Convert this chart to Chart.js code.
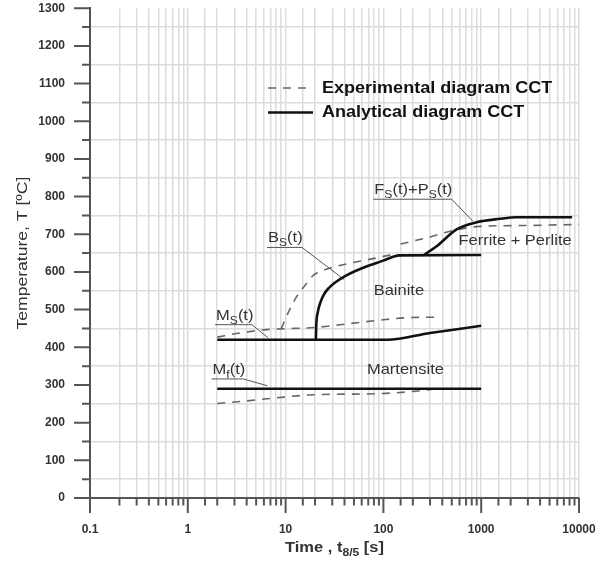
<!DOCTYPE html>
<html>
<head>
<meta charset="utf-8">
<style>
  html, body { margin: 0; padding: 0; background: #fff; }
  #wrap { width: 612px; height: 563px; }
</style>
</head>
<body>
<div id="wrap"><canvas id="cct" width="612" height="563"></canvas></div>
<script src="https://cdn.jsdelivr.net/npm/chart.js@4/dist/chart.umd.min.js"></script>
<script>
// axis ranges and labelled ticks
const timeRange = [0.1, 10000];
const tempRange = [0, 1300];
const timeMajorTicks = [0.1, 1, 10, 100, 1000, 10000];
const tempStep = 50;

// analytical CCT curves [t8/5 (s), T (C)]
const msAnalytical = [[2, 420], [110, 420], [300, 438], [1000, 457]];
const mfAnalytical = [[2, 290], [1000, 290]];
const bsAnalytical = [[20.4, 420], [20.6, 460], [21.3, 492], [22.6, 518], [24.6, 540], [27.8, 558], [32.9, 574], [40.6, 589], [52.4, 603], [71.2, 617], [99.3, 630], [128, 641], [148, 644], [1000, 645]];
const fpAnalytical = [[260, 645], [350, 668], [560, 713], [900, 732], [1550, 741], [2300, 745], [8500, 745]];

// experimental CCT curves
const msExperimental = [[2, 427], [3.4, 438], [6.4, 447], [9, 449], [21, 453], [36, 460], [85, 471], [160, 478], [350, 480]];
const bsExperimental = [[9, 449], [11, 500], [13, 535], [16, 566], [19, 590], [21, 598], [28, 610], [45, 623], [85, 637], [125, 645], [750, 645]];
const fpExperimental = [[150, 674], [300, 693], [480, 708], [970, 721], [2300, 723], [10000, 726]];
const mfExperimental = [[2, 251], [3.4, 256], [7.5, 265], [19, 274], [92, 277], [200, 283], [350, 290]];

// leader lines from the curve names to the curves
const bsLeader = [[6.45, 665], [14.7, 665], [39.6, 580]];
const msLeader = [[1.9, 460], [4.53, 460], [6.6, 425.5]];
const mfLeader = [[1.75, 316], [3.7, 316], [6.5, 298]];
const fpLeader = [[78.8, 793], [499, 793], [819, 735]];

// texts
const legendNames = ['Experimental diagram CCT', 'Analytical diagram CCT'];
const curveNames = [
  { parts: [['B'], ['S', 1], ['(t)']], leader: bsLeader },
  { parts: [['M'], ['S', 1], ['(t)']], leader: msLeader },
  { parts: [['M'], ['f', 1], ['(t)']], leader: mfLeader },
  { parts: [['F'], ['S', 1], ['(t)+P'], ['S', 1], ['(t)']], leader: fpLeader }
];
const regionNames = [
  { text: 'Bainite', at: [144, 550] },
  { text: 'Martensite', at: [168, 340] },
  { text: 'Ferrite + Perlite', at: [2217, 683] }
];

const FONT = '"Liberation Sans", Arial, sans-serif';
const INK = '#333';
const STRETCH = 1.1;   // the original lettering is a bit wider than Arial

const toXY = arr => arr.map(p => ({ x: p[0], y: p[1] }));
const isDecade = v => timeMajorTicks.some(m => Math.abs(Math.log10(v) - Math.log10(m)) < 1e-6);

function solid(data) {
  return { data: toXY(data), borderColor: '#111', borderWidth: 2.6, pointRadius: 0, cubicInterpolationMode: 'monotone', order: 1 };
}
function dashed(data) {
  return { data: toXY(data), borderColor: '#666', borderWidth: 1.6, borderDash: [8, 7], pointRadius: 0, cubicInterpolationMode: 'monotone', order: 2 };
}
function leader(data) {
  return { data: toXY(data), borderColor: '#555', borderWidth: 1, pointRadius: 0, order: 3 };
}

// text drawn left-aligned, widened by STRETCH; returns the width used
function wideText(ctx, text, x, y, k) {
  k = k || STRETCH;
  ctx.save();
  ctx.translate(x, y);
  ctx.scale(k, 1);
  ctx.fillText(text, 0, 0);
  ctx.restore();
  return ctx.measureText(text).width * k;
}

function partsWidth(ctx, parts, size, weight) {
  let w = 0;
  parts.forEach(p => {
    ctx.font = weight + (p[1] ? Math.round(size * 0.72) : size) + 'px ' + FONT;
    w += ctx.measureText(p[0]).width * STRETCH;
  });
  return w;
}

function drawParts(ctx, parts, x, y, size, weight) {
  let cx = x;
  parts.forEach(p => {
    const sub = p[1] === 1;
    ctx.font = weight + (sub ? Math.round(size * 0.72) : size) + 'px ' + FONT;
    cx += wideText(ctx, p[0], cx, sub ? y + 4 : y);
  });
}

const extras = {
  id: 'extras',
  afterDraw(chart) {
    const { ctx, chartArea: a, scales: { x, y } } = chart;
    ctx.save();

    // tick marks, long at labelled ticks
    ctx.strokeStyle = '#555';
    ctx.lineWidth = 2;
    ctx.beginPath();
    x.ticks.forEach(t => {
      const px = x.getPixelForValue(t.value);
      ctx.moveTo(px, a.bottom);
      ctx.lineTo(px, a.bottom + (isDecade(t.value) ? 15 : 7.5));
    });
    y.ticks.forEach(t => {
      const py = y.getPixelForValue(t.value);
      ctx.moveTo(a.left - (t.value % 100 === 0 ? 16 : 8), py);
      ctx.lineTo(a.left, py);
    });
    ctx.stroke();

    ctx.fillStyle = INK;
    ctx.textBaseline = 'alphabetic';
    ctx.textAlign = 'left';

    // curve names above their leader lines
    curveNames.forEach(c => {
      const px = x.getPixelForValue(c.leader[0][0]);
      const py = y.getPixelForValue(c.leader[0][1]);
      drawParts(ctx, c.parts, px + 1, py - 5, 15, '');
    });

    // region names
    ctx.textBaseline = 'middle';
    ctx.font = '15px ' + FONT;
    regionNames.forEach(r => {
      const w = ctx.measureText(r.text).width * STRETCH;
      wideText(ctx, r.text, x.getPixelForValue(r.at[0]) - w / 2, y.getPixelForValue(r.at[1]));
    });

    // legend
    const ds = chart.data.datasets;
    const rows = [ds.find(d => d.order === 2), ds.find(d => d.order === 1)];
    ctx.font = 'bold 17px ' + FONT;
    rows.forEach((d, i) => {
      const ly = 88 + i * 24.5;
      ctx.strokeStyle = d.borderColor;
      ctx.lineWidth = d.borderWidth;
      ctx.setLineDash(d.borderDash || []);
      ctx.beginPath();
      ctx.moveTo(268, ly);
      ctx.lineTo(313, ly);
      ctx.stroke();
      ctx.setLineDash([]);
      ctx.fillStyle = '#111';
      wideText(ctx, legendNames[i], 322, ly, 1.06);
    });

    // axis titles
    ctx.fillStyle = INK;
    ctx.save();
    ctx.translate(23, (a.top + a.bottom) / 2);
    ctx.rotate(-Math.PI / 2);
    ctx.font = '15px ' + FONT;
    const yTitle = 'Temperature, T [ºC]';
    const yw = ctx.measureText(yTitle).width * 1.17;
    wideText(ctx, yTitle, -yw / 2, 0, 1.17);
    ctx.restore();

    const tParts = [['Time , t'], ['8/5', 1], [' [s]']];
    const tw = partsWidth(ctx, tParts, 15, 'bold ');
    ctx.textBaseline = 'alphabetic';
    drawParts(ctx, tParts, (a.left + a.right) / 2 - tw / 2, 552, 15, 'bold ');

    ctx.restore();
  }
};

new Chart(document.getElementById('cct'), {
  type: 'line',
  data: {
    datasets: [
      solid(msAnalytical), solid(mfAnalytical), solid(bsAnalytical), solid(fpAnalytical),
      dashed(msExperimental), dashed(bsExperimental), dashed(fpExperimental), dashed(mfExperimental),
      leader(bsLeader), leader(msLeader), leader(mfLeader), leader(fpLeader)
    ]
  },
  options: {
    responsive: false,
    animation: false,
    layout: { padding: { top: 8, right: 33, left: 0, bottom: 0 } },
    plugins: { legend: { display: false }, tooltip: { enabled: false } },
    scales: {
      x: {
        type: 'logarithmic',
        min: timeRange[0],
        max: timeRange[1],
        afterFit: s => { s.height = 65; },
        border: { display: true, color: '#555', width: 2 },
        grid: { color: '#dcdcdc', lineWidth: 1.5, drawTicks: true, tickLength: 23, tickColor: 'rgba(0,0,0,0)' },
        ticks: {
          autoSkip: false,
          maxRotation: 0,
          padding: 1,
          color: INK,
          font: { family: FONT, size: 12, weight: 'bold' },
          callback: v => isDecade(v) ? String(timeMajorTicks.find(m => Math.abs(Math.log10(v) - Math.log10(m)) < 1e-6)) : ''
        }
      },
      y: {
        min: tempRange[0],
        max: tempRange[1],
        afterFit: s => { s.width = 90; },
        border: { display: true, color: '#555', width: 2 },
        grid: {
          drawTicks: true,
          tickLength: 24,
          tickColor: 'rgba(0,0,0,0)',
          lineWidth: 1.5,
          color: c => (c.tick && c.tick.value % 100 !== 0) ? '#dcdcdc' : 'rgba(0,0,0,0)'
        },
        ticks: {
          stepSize: tempStep,
          autoSkip: false,
          padding: 1,
          color: INK,
          font: { family: FONT, size: 12, weight: 'bold' },
          callback: v => v % 100 === 0 ? String(v) : ''
        }
      }
    }
  },
  plugins: [extras]
});
</script>
</body>
</html>
